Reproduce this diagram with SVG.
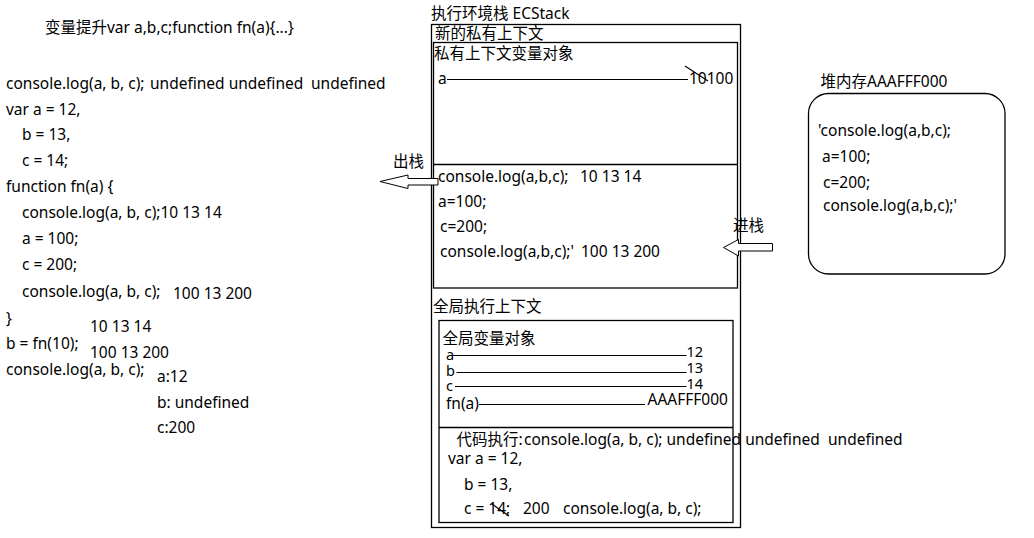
<svg xmlns="http://www.w3.org/2000/svg" width="1034" height="538" viewBox="0 0 1034 538">
<style>
text{font-family:"Noto Sans","Noto Sans CJK SC",sans-serif;font-size:15.5px;fill:#000}
.sm{font-size:14.5px}
.box{fill:none;stroke:#000;stroke-width:1.3}
.ln{stroke:#000;stroke-width:1.2;fill:none}
.arr{fill:#fff;stroke:#000;stroke-width:1}
</style>
<rect width="1034" height="538" fill="#fff"/>

<g id="code">
<text x="45" y="33">变量提升var a,b,c;function fn(a){...}</text>
<text x="6" y="89">console.log(a, b, c);</text>
<text x="150" y="89">undefined undefined</text>
<text x="311" y="89">undefined</text>
<text x="6" y="115">var a = 12,</text>
<text x="22" y="140">b = 13,</text>
<text x="22" y="166">c = 14;</text>
<text x="6" y="192">function fn(a) {</text>
<text x="22" y="218">console.log(a, b, c);10  13 14</text>
<text x="22" y="244">a = 100;</text>
<text x="22" y="270">c = 200;</text>
<text x="22" y="297">console.log(a, b, c);</text>
<text x="173" y="299">100 13 200</text>
<text x="6" y="324">}</text>
<text x="90" y="332">10 13 14</text>
<text x="6" y="349">b = fn(10);</text>
<text x="90" y="358">100  13 200</text>
<text x="6" y="375">console.log(a, b, c);</text>
<text x="157" y="382">a:12</text>
<text x="157" y="408">b: undefined</text>
<text x="157" y="433">c:200</text>
</g>

<g id="ecstack">
<text x="431" y="19">执行环境栈 ECStack</text>
<rect class="box" x="431.5" y="24.5" width="309" height="503"/>
</g>

<g id="private-context">
<text x="435" y="38.5">新的私有上下文</text>
<rect class="box" x="433.5" y="42.5" width="304" height="245.5"/>
<line class="box" x1="433.5" y1="164.5" x2="737.5" y2="164.5"/>
<text x="434" y="59">私有上下文变量对象</text>
<text x="438" y="84">a</text>
<text x="689" y="84">10100</text>
<line class="ln" x1="685" y1="66" x2="708" y2="81"/>
<text x="438" y="182">console.log(a,b,c);</text>
<text x="580" y="182">10  13 14</text>
<text x="438" y="207">a=100;</text>
<text x="440" y="232">c=200;</text>
<text x="440" y="257">console.log(a,b,c);'</text>
<text x="581" y="257">100 13 200</text>
</g>

<g id="global-context">
<text x="433" y="312">全局执行上下文</text>
<rect class="box" x="439" y="320.5" width="294" height="202"/>
<line class="box" x1="439" y1="427.5" x2="733" y2="427.5"/>
<text x="442.5" y="344">全局变量对象</text>
<text class="sm" x="446" y="360">a</text>
<text class="sm" x="686.5" y="357">12</text>
<text class="sm" x="446" y="376">b</text>
<text class="sm" x="686.5" y="373">13</text>
<text class="sm" x="446" y="391">c</text>
<text class="sm" x="686.5" y="389">14</text>
<text x="446" y="409">fn(a)</text>
<text x="647.5" y="405">AAAFFF000</text>
<text x="456.5" y="445">代码执行:</text>
<text x="524" y="445">console.log(a, b, c);</text>
<text x="666.5" y="445">undefined undefined</text>
<text x="828" y="445">undefined</text>
<text x="448" y="464">var a = 12,</text>
<text x="464" y="490">b = 13,</text>
<text x="464" y="514">c = 14;</text>
<line class="ln" x1="492" y1="504" x2="509" y2="516"/>
<text x="523" y="514">200</text>
<text x="563" y="514">console.log(a, b, c);</text>
</g>

<g id="heap">
<text x="820.5" y="87">堆内存AAAFFF000</text>
<rect class="box" x="808.5" y="93.5" width="196.5" height="180.5" rx="20"/>
<text x="818" y="136">'console.log(a,b,c);</text>
<text x="822" y="162">a=100;</text>
<text x="823" y="188">c=200;</text>
<text x="823" y="211">console.log(a,b,c);'</text>
</g>

<g id="connectors">
<line class="ln" x1="447" y1="79.5" x2="688" y2="79.5"/>
<line class="ln" x1="453" y1="355.5" x2="686.5" y2="355.5"/>
<line class="ln" x1="456.5" y1="372.5" x2="686.5" y2="372.5"/>
<line class="ln" x1="455" y1="386.5" x2="686.5" y2="386.5"/>
<line class="ln" x1="479" y1="404.5" x2="645" y2="404.5"/>
<g id="pop">
<text x="393" y="167">出栈</text>
<polygon class="arr" points="380,181.5 408,175 408,178.5 438,178.5 438,185 408,185 408,188.5"/>
</g>
<g id="push">
<text x="733" y="231">进栈</text>
<polygon class="arr" points="723.5,247.5 738.5,239.5 738.5,243.5 772.5,243.5 772.5,251 738.5,251 738.5,256"/>
</g>
</g>
</svg>
